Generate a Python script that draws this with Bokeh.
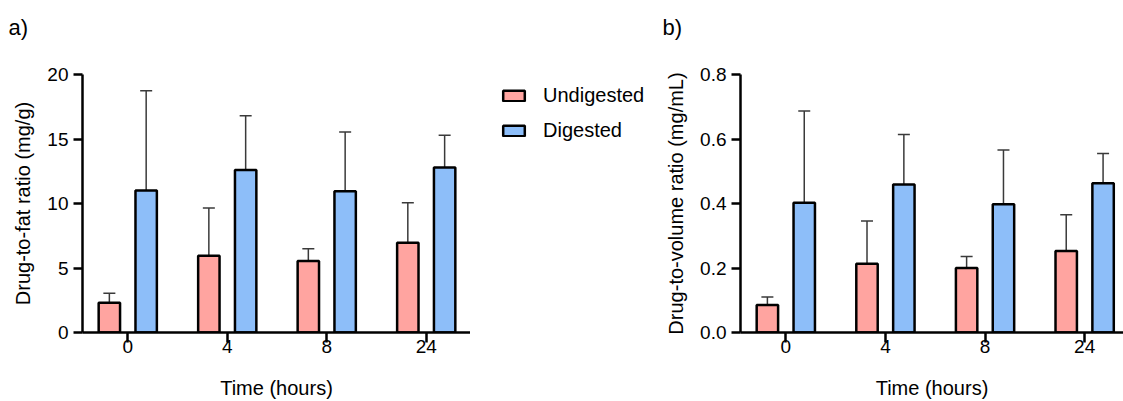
from bokeh.plotting import figure
from bokeh.models import (Range1d, FixedTicker, PrintfTickFormatter, ColumnDataSource,
                          Whisker, TeeHead, Legend, LegendItem, Label)
from bokeh.layouts import row, column
from bokeh.embed import file_html
from bokeh.resources import INLINE

# ---------------- data ----------------
times = ["0", "4", "8", "24"]
series = ["Undigested", "Digested"]
panel_names = ["a)", "b)"]

fat_undigested = [2.3, 5.95, 5.55, 6.95]
fat_undigested_sd = [0.75, 3.7, 0.95, 3.1]
fat_digested = [11.0, 12.6, 10.95, 12.8]
fat_digested_sd = [7.75, 4.2, 4.6, 2.5]

vol_undigested = [0.085, 0.213, 0.200, 0.253]
vol_undigested_sd = [0.025, 0.133, 0.036, 0.112]
vol_digested = [0.402, 0.459, 0.398, 0.463]
vol_digested_sd = [0.285, 0.155, 0.168, 0.092]

fat_ticks = [0, 5, 10, 15, 20]
vol_ticks = [0.0, 0.2, 0.4, 0.6, 0.8]

# ---------------- style ----------------
FONT = "Liberation Sans"
PINK = "#FFA4A0"
BLUE = "#8DBEF9"
EBAR = "#3a3a3a"
TICK_FS = "19px"
LAB_FS = "20px"
OFF = 0.185
BW = 0.215
HEAD_H = 50
H = 351


def make_panel(vals_u, sd_u, vals_d, sd_d, ymax, yticks, fmt, ylabel, x_end,
               left_border, right_border, width):
    p = figure(width=width, height=H, output_backend="svg", toolbar_location=None,
               x_range=Range1d(-0.455, x_end), y_range=Range1d(0, ymax),
               min_border_left=left_border, min_border_right=right_border,
               min_border_top=24, min_border_bottom=69)
    p.outline_line_color = None
    p.xgrid.visible = False
    p.ygrid.visible = False
    p.background_fill_color = "white"

    xs = list(range(len(times)))
    xu = [x - OFF for x in xs]
    xd = [x + OFF for x in xs]
    su = ColumnDataSource(dict(x=xu, top=vals_u,
                               lo=[v - s for v, s in zip(vals_u, sd_u)],
                               hi=[v + s for v, s in zip(vals_u, sd_u)]))
    sd = ColumnDataSource(dict(x=xd, top=vals_d,
                               lo=[v - s for v, s in zip(vals_d, sd_d)],
                               hi=[v + s for v, s in zip(vals_d, sd_d)]))
    ru = p.vbar(x="x", top="top", width=BW, bottom=0, source=su,
                fill_color=PINK, line_color="black", line_width=2.5)
    rd = p.vbar(x="x", top="top", width=BW, bottom=0, source=sd,
                fill_color=BLUE, line_color="black", line_width=2.5)
    for src in (su, sd):
        w = Whisker(base="x", lower="lo", upper="hi", source=src,
                    line_color=EBAR, line_width=1.5,
                    upper_head=TeeHead(size=12, line_color=EBAR, line_width=1.5),
                    lower_head=TeeHead(size=12, line_color=EBAR, line_width=1.5))
        p.add_layout(w)

    for ax in (p.xaxis, p.yaxis):
        ax.axis_line_width = 2.5
        ax.axis_line_color = "black"
        ax.major_tick_line_width = 2.5
        ax.major_tick_line_color = "black"
        ax.minor_tick_line_color = None
        ax.major_tick_in = 0
        ax.major_label_text_font = FONT
        ax.major_label_text_font_size = TICK_FS
        ax.major_label_text_color = "black"
        ax.axis_label_text_font = FONT
        ax.axis_label_text_font_size = LAB_FS
        ax.axis_label_text_font_style = "normal"
        ax.axis_label_text_color = "black"

    p.xaxis.ticker = FixedTicker(ticks=xs)
    p.xaxis.major_label_overrides = {i: t for i, t in enumerate(times)}
    p.xaxis.major_tick_out = 10
    p.xaxis.major_label_standoff = -3
    p.xaxis.axis_label = "Time (hours)"
    p.xaxis.axis_label_standoff = 21

    p.yaxis.ticker = FixedTicker(ticks=yticks)
    p.yaxis.formatter = PrintfTickFormatter(format=fmt)
    p.yaxis.major_tick_out = 9
    p.yaxis.major_label_standoff = 5
    p.yaxis.axis_label = ylabel
    p.yaxis.axis_label_standoff = 10
    return p, ru, rd


# header strip with the panel letters (pixel coordinates)
ph = figure(width=1123, height=HEAD_H, output_backend="svg", toolbar_location=None,
            x_range=Range1d(0, 1123), y_range=Range1d(HEAD_H, 0),
            x_axis_location=None, y_axis_location=None, min_border=0)
ph.outline_line_color = None
ph.xgrid.visible = False
ph.ygrid.visible = False
for txt, px in zip(panel_names, [8, 662]):
    ph.add_layout(Label(x=px, y=27, text=txt, text_font=FONT, text_font_size="22px",
                        text_baseline="middle", text_align="left", text_color="black"))

# left panel: frame 82 -> 470 (page px)
p1, ru1, rd1 = make_panel(fat_undigested, fat_undigested_sd, fat_digested, fat_digested_sd,
                          20, fat_ticks, "%d", "Drug-to-fat ratio (mg/g)", 3.445,
                          82, 0, 470)

# legend strip between the two panels: 470 -> 655 (page px)
pl = figure(width=185, height=H, output_backend="svg", toolbar_location=None,
            x_range=Range1d(0, 1), y_range=Range1d(0, 1),
            x_axis_location=None, y_axis_location=None,
            min_border_left=20, min_border_top=24, min_border_right=0, min_border_bottom=69)
pl.outline_line_color = None
pl.xgrid.visible = False
pl.ygrid.visible = False
# hidden proxy bars, used only for the legend swatches
lu = pl.vbar(x=[0.5], top=[0.5], width=0.1, fill_color=PINK, line_color="black", line_width=2.5)
ld = pl.vbar(x=[0.5], top=[0.5], width=0.1, fill_color=BLUE, line_color="black", line_width=2.5)
lu.visible = False
ld.visible = False

legend = Legend(items=[LegendItem(label=series[0], renderers=[lu]),
                       LegendItem(label=series[1], renderers=[ld])],
                location="top_left", orientation="vertical")
legend.padding = 0
legend.margin = 10
legend.border_line_color = None
legend.background_fill_alpha = 0
legend.inactive_fill_alpha = 0
legend.glyph_width = 27
legend.glyph_height = 13
legend.label_height = 23
legend.label_standoff = 16
legend.spacing = 12
legend.label_text_font = FONT
legend.label_text_font_size = LAB_FS
legend.label_text_color = "black"
pl.add_layout(legend, "center")

# right panel: frame 740 -> 1123 (page px)
p2, ru2, rd2 = make_panel(vol_undigested, vol_undigested_sd, vol_digested, vol_digested_sd,
                          0.8, vol_ticks, "%.1f", "Drug-to-volume ratio (mg/mL)", 3.39,
                          85, 0, 468)

layout = column(ph, row(p1, pl, p2))
open("out.html", "w").write(file_html(layout, INLINE))
